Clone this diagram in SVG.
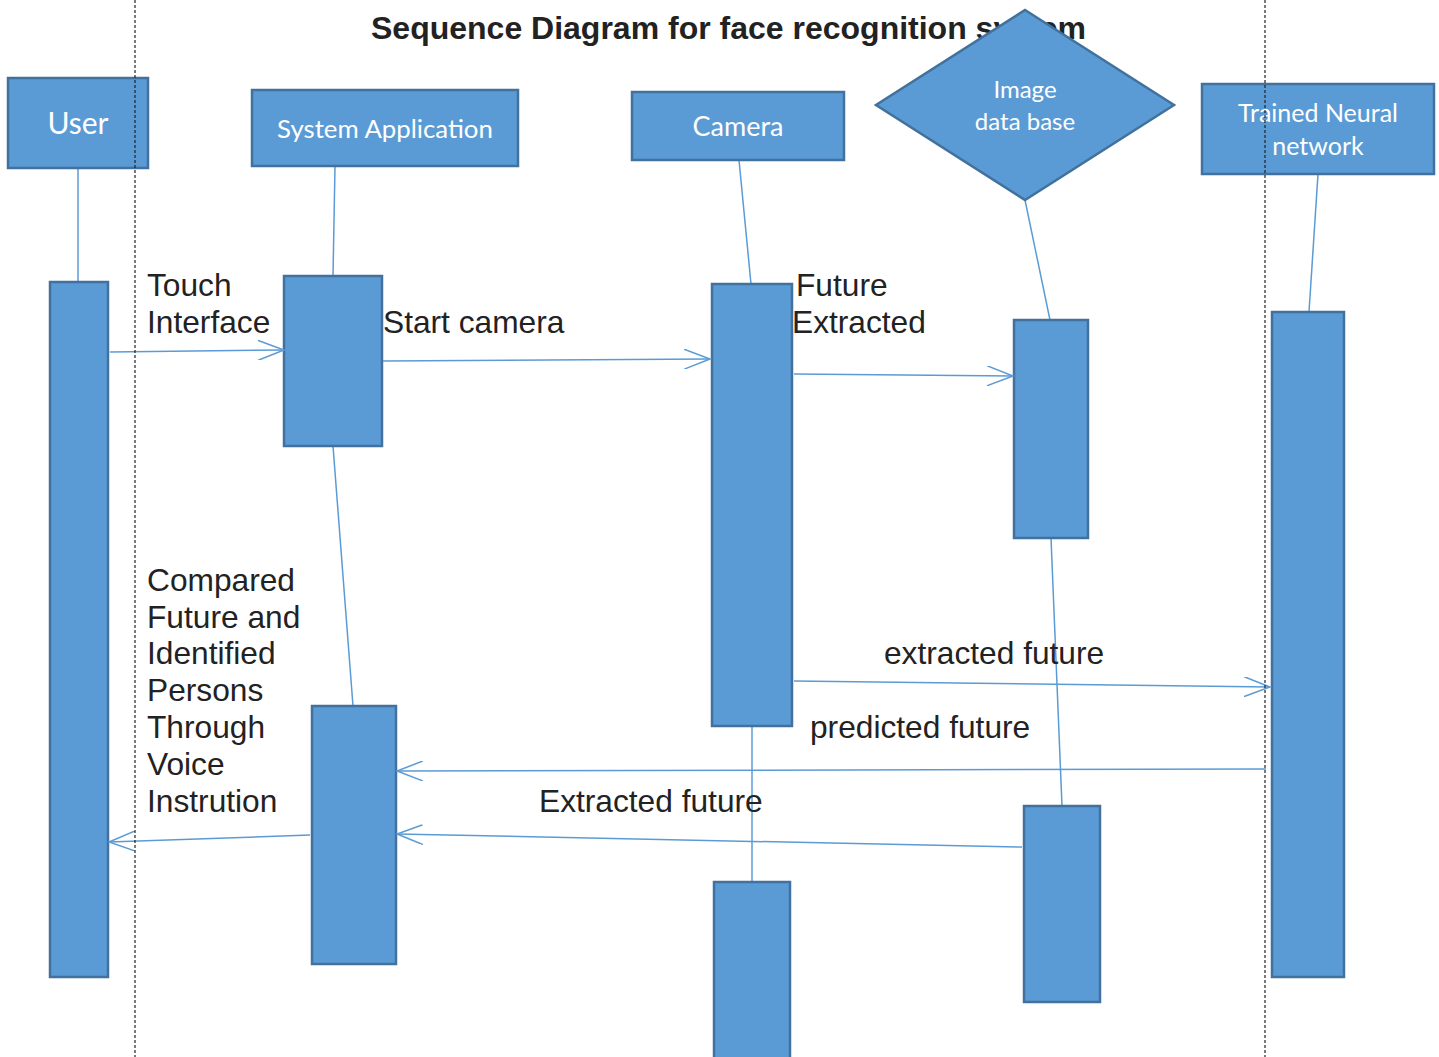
<svg xmlns="http://www.w3.org/2000/svg" width="1439" height="1057" viewBox="0 0 1439 1057">
<style>
.box{fill:#5B9BD5;stroke:#41719C;stroke-width:2.5}
.nt{fill:#fff;font-family:Lato,"Open Sans",sans-serif;text-anchor:middle}
.ll{stroke:#5B9BD5;stroke-width:1.5;fill:none}
.msg{stroke:#5B9BD5;stroke-width:1.5;fill:none;marker-end:url(#open)}
.lbl{fill:#222;font-family:"Liberation Sans",Arial,sans-serif;font-size:31.7px}
.dash{stroke:#222;stroke-width:1.2;stroke-dasharray:3,2}
</style>
<defs>
<marker id="open" markerWidth="30" markerHeight="20" refX="26" refY="10" orient="auto" markerUnits="userSpaceOnUse">
<path d="M0,0 L26,10 L0,20" fill="none" stroke="#5B9BD5" stroke-width="1.5"/>
</marker>
</defs>
<rect width="1439" height="1057" fill="#fff"/>
<text x="371" y="39" font-family="Liberation Sans,Arial,sans-serif" font-weight="bold" font-size="32" fill="#222">Sequence Diagram for face recognition system</text>

<g id="lifelines" class="ll">
<line x1="78" y1="168" x2="78" y2="282"/>
<line x1="335" y1="166" x2="333" y2="276"/>
<line x1="333" y1="446" x2="353" y2="706"/>
<line x1="739" y1="160" x2="751" y2="284"/>
<line x1="752" y1="726" x2="752" y2="882"/>
<line x1="1025" y1="200" x2="1050" y2="320"/>
<line x1="1051" y1="538" x2="1062" y2="806"/>
<line x1="1318" y1="174" x2="1309" y2="312"/>
</g>

<g id="user"><rect class="box" x="8" y="78" width="140" height="90"/><text class="nt" x="78" y="134" font-size="30">User</text></g>
<g id="system-application"><rect class="box" x="252" y="90" width="266" height="76"/><text class="nt" x="385" y="138" font-size="25.8">System Application</text></g>
<g id="camera"><rect class="box" x="632" y="92" width="212" height="68"/><text class="nt" x="738" y="136" font-size="27">Camera</text></g>
<g id="image-database"><polygon class="box" points="1025,10 1174,105 1025,200 876,105"/><text class="nt" x="1025" y="98" font-size="24">Image</text><text class="nt" x="1025" y="130" font-size="24">data base</text></g>
<g id="neural-network"><rect class="box" x="1202" y="84" width="232" height="90"/><text class="nt" x="1318" y="122" font-size="25">Trained Neural</text><text class="nt" x="1318" y="155" font-size="25">network</text></g>

<g id="activations">
<rect class="box" x="50" y="282" width="58" height="695"/>
<rect class="box" x="284" y="276" width="98" height="170"/>
<rect class="box" x="312" y="706" width="84" height="258"/>
<rect class="box" x="712" y="284" width="80" height="442"/>
<rect class="box" x="714" y="882" width="76" height="180"/>
<rect class="box" x="1014" y="320" width="74" height="218"/>
<rect class="box" x="1024" y="806" width="76" height="196"/>
<rect class="box" x="1272" y="312" width="72" height="665"/>
</g>

<g id="connectors">
<line class="msg" x1="110" y1="352" x2="284" y2="350"/>
<line class="msg" x1="383" y1="361" x2="710" y2="359"/>
<line class="msg" x1="794" y1="374" x2="1013" y2="376"/>
<line class="msg" x1="794" y1="681" x2="1270" y2="687"/>
<line class="msg" x1="1266" y1="769" x2="397" y2="771"/>
<line class="msg" x1="1022" y1="847" x2="397" y2="834"/>
<line class="msg" x1="310" y1="835" x2="109" y2="842"/>
</g>

<g id="labels">
<text class="lbl" x="147" y="296">Touch</text>
<text class="lbl" x="147" y="333">Interface</text>
<text class="lbl" x="383" y="333">Start camera</text>
<text class="lbl" x="796" y="296">Future</text>
<text class="lbl" x="792" y="333">Extracted</text>
<text class="lbl" x="147" y="591">Compared</text>
<text class="lbl" x="147" y="628">Future and</text>
<text class="lbl" x="147" y="664">Identified</text>
<text class="lbl" x="147" y="701">Persons</text>
<text class="lbl" x="147" y="738">Through</text>
<text class="lbl" x="147" y="775">Voice</text>
<text class="lbl" x="147" y="812">Instrution</text>
<text class="lbl" x="884" y="664">extracted future</text>
<text class="lbl" x="810" y="738">predicted future</text>
<text class="lbl" x="539" y="812">Extracted future</text>
</g>

<g id="dividers">
<line class="dash" x1="135" y1="0" x2="135" y2="1057"/>
<line class="dash" x1="1265" y1="0" x2="1265" y2="1057"/>
</g>
</svg>
